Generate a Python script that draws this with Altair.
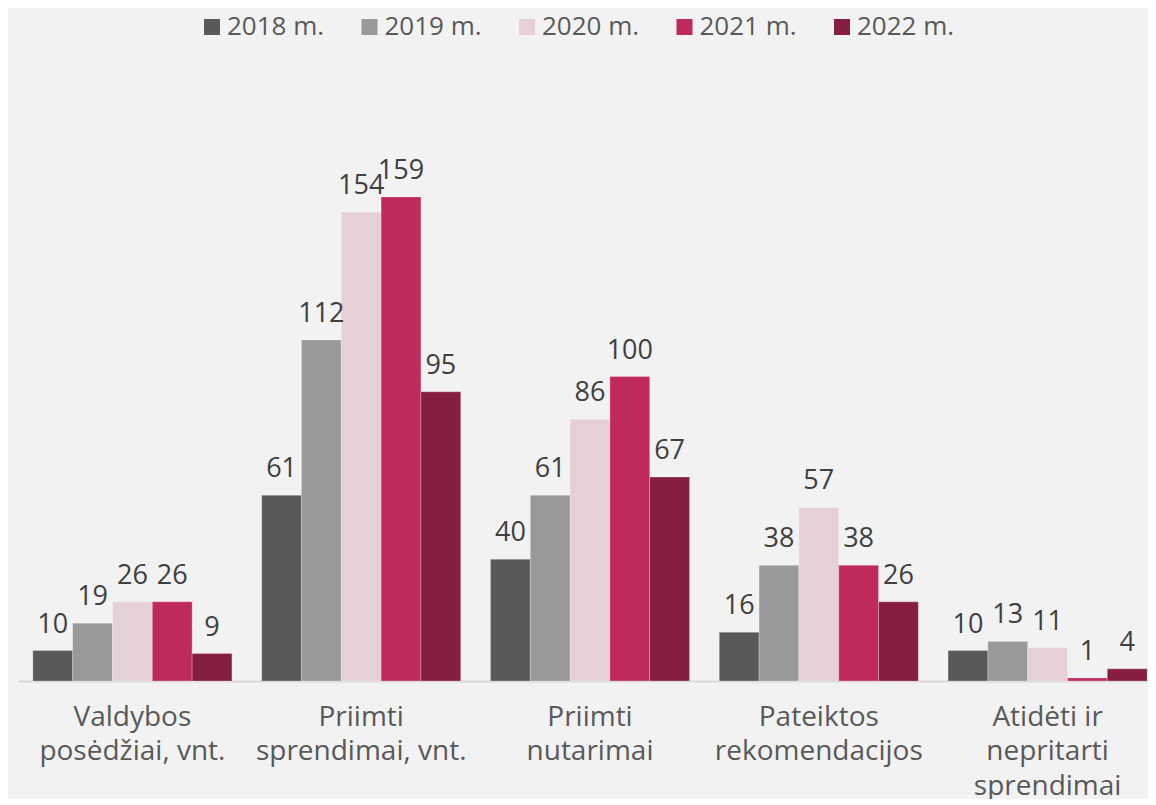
import altair as alt
import pandas as pd

categories = [
    "Valdybos\nposėdžiai, vnt.",
    "Priimti\nsprendimai, vnt.",
    "Priimti\nnutarimai",
    "Pateiktos\nrekomendacijos",
    "Atidėti ir\nnepritarti\nsprendimai",
]
years = ["2018 m.", "2019 m.", "2020 m.", "2021 m.", "2022 m."]
values_2018 = [10, 61, 40, 16, 10]
values_2019 = [19, 112, 61, 38, 13]
values_2020 = [26, 154, 86, 57, 11]
values_2021 = [26, 159, 100, 38, 1]
values_2022 = [9, 95, 67, 26, 4]
colors = ["#595959", "#999999", "#e4d0d6", "#c0295b", "#861e40"]

series = [values_2018, values_2019, values_2020, values_2021, values_2022]
rows = []
for y, vals in zip(years, series):
    for c, v in zip(categories, vals):
        rows.append({"cat": c, "year": y, "value": v})
df = pd.DataFrame(rows)

FONT = "Open Sans"

x_enc = alt.X(
    "cat:N",
    sort=categories,
    scale=alt.Scale(paddingInner=0.13, paddingOuter=0.065, range=[0, 1144]),
    axis=alt.Axis(
        title=None,
        labelExpr="split(datum.label, '\\n')",
        labelAngle=0,
        labelFont=FONT,
        labelFontSize=28,
        labelColor="#595959",
        labelLineHeight=34.5,
        labelPadding=22,
        labelBaseline="top",
        labelLimit=0,
        ticks=False,
        domainColor="#d9d9d9",
        domainWidth=2,
        grid=False,
    ),
)
xoff = alt.XOffset("year:N", sort=years, scale=alt.Scale(paddingInner=0, paddingOuter=0))
y_enc = alt.Y("value:Q", scale=alt.Scale(domain=[0, 180], nice=False), axis=None)

bars = alt.Chart(df).mark_bar(
    stroke="#ffffff", strokeOpacity=0.25, strokeWidth=1
).encode(
    x=x_enc,
    xOffset=xoff,
    y=y_enc,
    color=alt.Color(
        "year:N",
        sort=years,
        scale=alt.Scale(domain=years, range=colors),
        legend=alt.Legend(
            title=None,
            orient="none",
            direction="horizontal",
            legendX=181,
            legendY=-119,
            symbolType="square",
            symbolSize=256,
            symbolStrokeWidth=0,
            labelFont=FONT,
            labelFontSize=26,
            labelColor="#595959",
            labelOffset=2,
            columnPadding=31.5,
        ),
    ),
)

labels = alt.Chart(df).mark_text(
    font=FONT, fontSize=27, color="#404040", baseline="alphabetic", dy=-18
).encode(
    x=alt.X("cat:N", sort=categories),
    xOffset=xoff,
    y=y_enc,
    text="value:Q",
)

chart = (
    alt.layer(bars, labels)
    .properties(
        width=1130,
        height=548,
        background="#f2f2f2",
        padding={"left": 10, "top": 125, "right": 0, "bottom": 118},
        autosize=alt.AutoSizeParams(type="none"),
    )
    .configure_view(stroke=None)
)

chart.save("out.html", embed_options={"renderer": "svg", "actions": False})
